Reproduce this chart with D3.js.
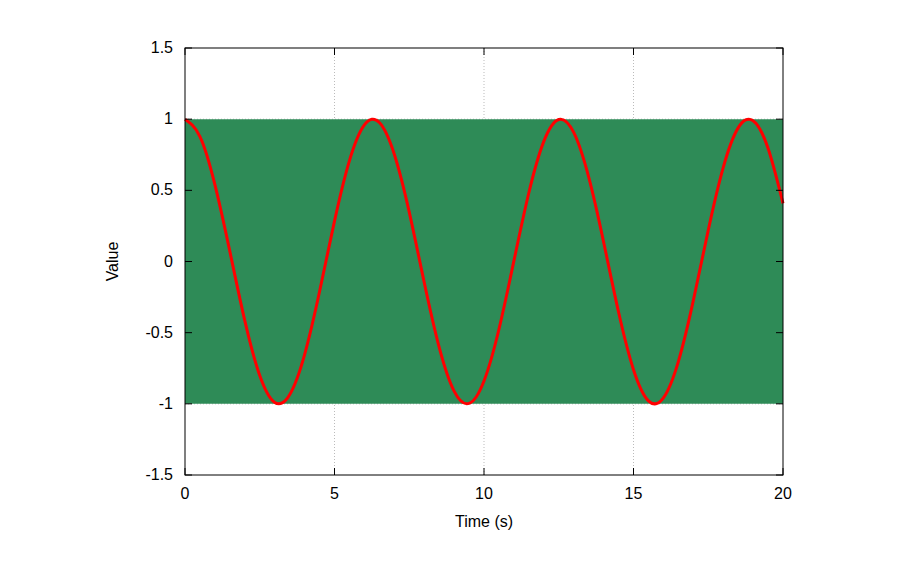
<!DOCTYPE html>
<html>
<head>
<meta charset="utf-8">
<script src="https://cdn.jsdelivr.net/npm/d3@7"></script>
<style>
  body { margin: 0; background: #fff; }
  text { font-family: "Liberation Sans", Arial, sans-serif; }
</style>
</head>
<body>
<div id="chart"></div>
<script>
// Red curve, read every 0.5 s
const curveTimes = d3.range(0, 20.01, 0.5);
const curveValues = [1, 0.878, 0.540, 0.071, -0.416, -0.801, -0.990, -0.936, -0.654, -0.211,
  0.284, 0.709, 0.960, 0.977, 0.754, 0.347, -0.146, -0.602, -0.911, -0.997,
  -0.839, -0.476, 0.004, 0.483, 0.844, 0.998, 0.907, 0.594, 0.137, -0.355,
  -0.760, -0.979, -0.958, -0.703, -0.275, 0.220, 0.660, 0.939, 0.989, 0.795, 0.408];

// Green band (dense oscillation envelope)
const bandTimes = [0, 20];
const bandLower = [-1, -1];
const bandUpper = [1, 1];

const xTicks = [0, 5, 10, 15, 20];
const yTicks = [-1.5, -1, -0.5, 0, 0.5, 1, 1.5];

const width = 900, height = 571;
const margin = {left: 185, right: 117, top: 48, bottom: 96};

const svg = d3.select("#chart").append("svg")
  .attr("width", width).attr("height", height);

const x = d3.scaleLinear().domain([0, 20]).range([margin.left, width - margin.right]);
const y = d3.scaleLinear().domain([-1.5, 1.5]).range([height - margin.bottom, margin.top]);

// Grid
svg.append("g").selectAll("line")
  .data(xTicks.slice(1, -1)).enter().append("line")
  .attr("x1", d => x(d)).attr("x2", d => x(d))
  .attr("y1", y(-1.5)).attr("y2", y(1.5))
  .attr("stroke", "#aaa").attr("stroke-width", 0.8).attr("stroke-dasharray", "1,2");
svg.append("g").selectAll("line")
  .data(yTicks.slice(1, -1)).enter().append("line")
  .attr("x1", x(0)).attr("x2", x(20))
  .attr("y1", d => y(d)).attr("y2", d => y(d))
  .attr("stroke", "#aaa").attr("stroke-width", 0.8).attr("stroke-dasharray", "1,2");

// Band
const band = bandTimes.map((t, i) => ({t, lo: bandLower[i], hi: bandUpper[i]}));
svg.append("path")
  .datum(band)
  .attr("d", d3.area().x(d => x(d.t)).y0(d => y(d.lo)).y1(d => y(d.hi)))
  .attr("fill", "#2e8b57");

// Red curve
const pts = curveTimes.map((t, i) => ({t, v: curveValues[i]}));
svg.append("path")
  .datum(pts)
  .attr("d", d3.line().x(d => x(d.t)).y(d => y(d.v)).curve(d3.curveNatural))
  .attr("fill", "none").attr("stroke", "#ff0000").attr("stroke-width", 3);

// Frame
svg.append("rect")
  .attr("x", x(0)).attr("y", y(1.5))
  .attr("width", x(20) - x(0)).attr("height", y(-1.5) - y(1.5))
  .attr("fill", "none").attr("stroke", "#000").attr("stroke-width", 1);

// Inward ticks, mirrored
const tk = 7;
xTicks.forEach(d => {
  svg.append("line").attr("x1", x(d)).attr("x2", x(d))
    .attr("y1", y(-1.5)).attr("y2", y(-1.5) - tk).attr("stroke", "#000");
  svg.append("line").attr("x1", x(d)).attr("x2", x(d))
    .attr("y1", y(1.5)).attr("y2", y(1.5) + tk).attr("stroke", "#000");
  svg.append("text").attr("x", x(d)).attr("y", y(-1.5) + 24)
    .attr("text-anchor", "middle").attr("font-size", 16).text(d);
});
yTicks.forEach(d => {
  svg.append("line").attr("x1", x(0)).attr("x2", x(0) + tk)
    .attr("y1", y(d)).attr("y2", y(d)).attr("stroke", "#000");
  svg.append("line").attr("x1", x(20)).attr("x2", x(20) - tk)
    .attr("y1", y(d)).attr("y2", y(d)).attr("stroke", "#000");
  svg.append("text").attr("x", x(0) - 12).attr("y", y(d) + 5)
    .attr("text-anchor", "end").attr("font-size", 16).text(d);
});

// Axis labels
svg.append("text").attr("x", (x(0) + x(20)) / 2).attr("y", 527)
  .attr("text-anchor", "middle").attr("font-size", 16).text("Time (s)");
svg.append("text")
  .attr("transform", `translate(118, ${(y(1.5) + y(-1.5)) / 2}) rotate(-90)`)
  .attr("text-anchor", "middle").attr("font-size", 16).text("Value");
</script>
</body>
</html>
